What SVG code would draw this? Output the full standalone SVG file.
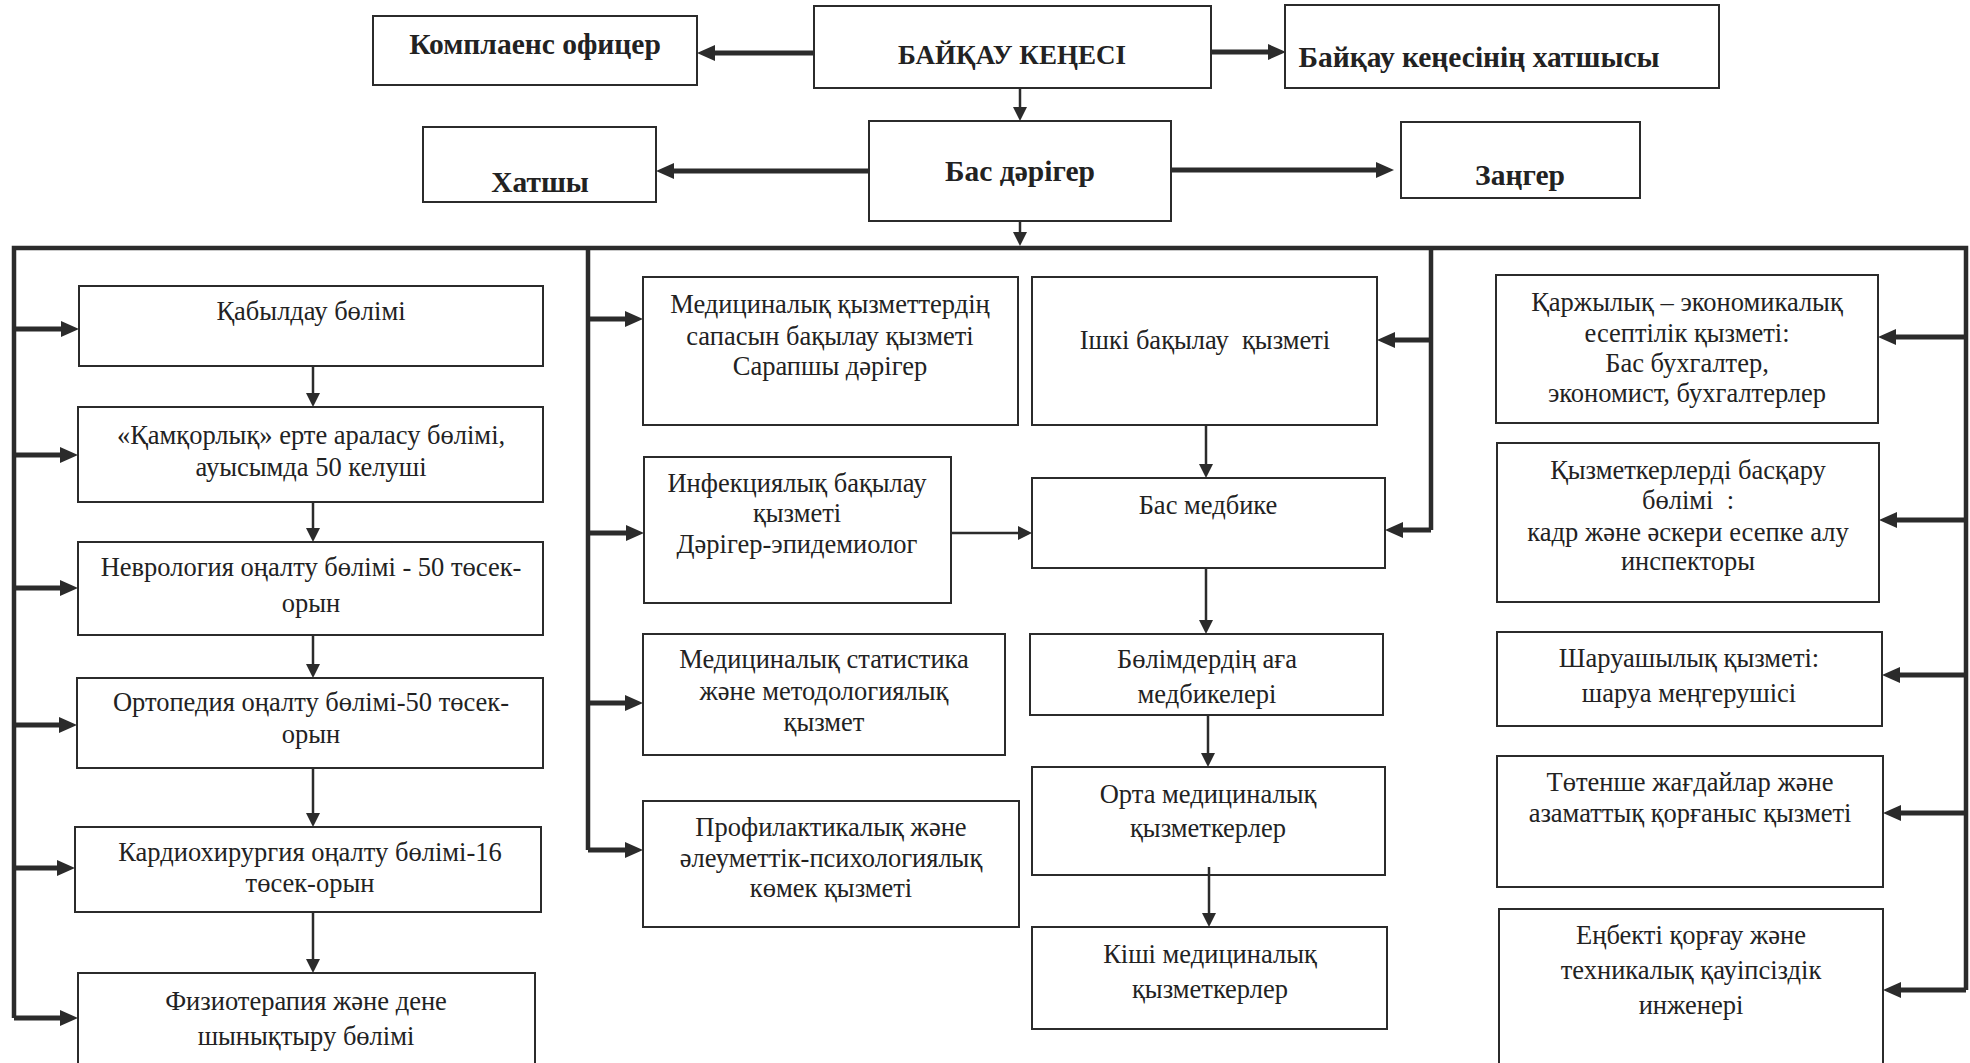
<svg xmlns="http://www.w3.org/2000/svg" width="1970" height="1063" viewBox="0 0 1970 1063">
<style>
.box{fill:#fff;stroke:#2b2b2b;stroke-width:2}
.t{font-family:"Liberation Serif","Times New Roman",serif;font-size:26.5px;fill:#222;text-anchor:middle}
.b{font-family:"Liberation Serif","Times New Roman",serif;font-size:29.5px;font-weight:bold;fill:#222;text-anchor:middle}
.bus{fill:none;stroke:#2b2b2b;stroke-width:4.5}
.thick{fill:none;stroke:#2b2b2b;stroke-width:5}
.thin{fill:none;stroke:#2b2b2b;stroke-width:2.5}
</style>
<defs>
<marker id="ah" markerUnits="userSpaceOnUse" markerWidth="18" markerHeight="16" refX="9" refY="8" orient="auto"><path d="M0,0 L18,8 L0,16 z" fill="#2b2b2b"/></marker>
<marker id="ahs" markerUnits="userSpaceOnUse" markerWidth="14" markerHeight="14" refX="7" refY="7" orient="auto"><path d="M0,0 L14,7 L0,14 z" fill="#2b2b2b"/></marker>
</defs>
<rect width="1970" height="1063" fill="#fff"/>

<g id="compliance"><rect class="box" x="373" y="16" width="324" height="69"/><text class="b" x="535" y="54">Комплаенс офицер</text></g>
<g id="board"><rect class="box" x="814" y="6" width="397" height="82"/><text class="b" x="1012" y="64" style="font-size:27px">БАЙҚАУ КЕҢЕСІ</text></g>
<g id="board-secretary"><rect class="box" x="1285" y="5" width="434" height="83"/><text class="b" x="1479" y="67">Байқау кеңесінің хатшысы</text></g>
<g id="secretary"><rect class="box" x="423" y="127" width="233" height="75"/><text class="b" x="540" y="192">Хатшы</text></g>
<g id="chief-doctor"><rect class="box" x="869" y="121" width="302" height="100"/><text class="b" x="1020" y="181">Бас дәрігер</text></g>
<g id="lawyer"><rect class="box" x="1401" y="122" width="239" height="76"/><text class="b" x="1520" y="185">Заңгер</text></g>

<g id="reception"><rect class="box" x="79" y="286" width="464" height="80"/><text class="t" x="311" y="320">Қабылдау бөлімі</text></g>
<g id="kamkorlyk"><rect class="box" x="78" y="407" width="465" height="95"/><text class="t" x="311" y="444">«Қамқорлық» ерте араласу бөлімі,</text><text class="t" x="311" y="476">ауысымда 50 келуші</text></g>
<g id="neurology"><rect class="box" x="78" y="542" width="465" height="93"/><text class="t" x="311" y="576">Неврология оңалту бөлімі - 50 төсек-</text><text class="t" x="311" y="612">орын</text></g>
<g id="orthopedics"><rect class="box" x="77" y="678" width="466" height="90"/><text class="t" x="311" y="711">Ортопедия оңалту бөлімі-50 төсек-</text><text class="t" x="311" y="743">орын</text></g>
<g id="cardio"><rect class="box" x="75" y="827" width="466" height="85"/><text class="t" x="310" y="861">Кардиохирургия оңалту бөлімі-16</text><text class="t" x="310" y="892">төсек-орын</text></g>
<g id="physio"><rect class="box" x="78" y="973" width="457" height="100"/><text class="t" x="306" y="1010">Физиотерапия және дене</text><text class="t" x="306" y="1045">шынықтыру бөлімі</text></g>

<g id="quality"><rect class="box" x="643" y="277" width="375" height="148"/><text class="t" x="830" y="313">Медициналық қызметтердің</text><text class="t" x="830" y="345">сапасын бақылау қызметі</text><text class="t" x="830" y="375">Сарапшы дәрігер</text></g>
<g id="infection"><rect class="box" x="644" y="457" width="307" height="146"/><text class="t" x="797" y="492">Инфекциялық бақылау</text><text class="t" x="797" y="522">қызметі</text><text class="t" x="797" y="553">Дәрігер-эпидемиолог</text></g>
<g id="statistics"><rect class="box" x="643" y="634" width="362" height="121"/><text class="t" x="824" y="668">Медициналық статистика</text><text class="t" x="824" y="700">және методологиялық</text><text class="t" x="824" y="731">қызмет</text></g>
<g id="prevention"><rect class="box" x="643" y="801" width="376" height="126"/><text class="t" x="831" y="836">Профилактикалық және</text><text class="t" x="831" y="867">әлеуметтік-психологиялық</text><text class="t" x="831" y="897">көмек қызметі</text></g>

<g id="internal-control"><rect class="box" x="1032" y="277" width="345" height="148"/><text class="t" x="1205" y="349" xml:space="preserve">Ішкі бақылау  қызметі</text></g>
<g id="head-nurse"><rect class="box" x="1032" y="478" width="353" height="90"/><text class="t" x="1208" y="514">Бас медбике</text></g>
<g id="senior-nurses"><rect class="box" x="1030" y="634" width="353" height="81"/><text class="t" x="1207" y="668">Бөлімдердің аға</text><text class="t" x="1207" y="703">медбикелері</text></g>
<g id="mid-staff"><rect class="box" x="1032" y="767" width="353" height="108"/><text class="t" x="1208" y="803">Орта медициналық</text><text class="t" x="1208" y="837">қызметкерлер</text></g>
<g id="junior-staff"><rect class="box" x="1032" y="927" width="355" height="102"/><text class="t" x="1210" y="963">Кіші медициналық</text><text class="t" x="1210" y="998">қызметкерлер</text></g>

<g id="finance"><rect class="box" x="1496" y="275" width="382" height="148"/><text class="t" x="1687" y="311">Қаржылық – экономикалық</text><text class="t" x="1687" y="342">есептілік қызметі:</text><text class="t" x="1687" y="372">Бас бухгалтер,</text><text class="t" x="1687" y="402">экономист, бухгалтерлер</text></g>
<g id="hr"><rect class="box" x="1497" y="443" width="382" height="159"/><text class="t" x="1688" y="479">Қызметкерлерді басқару</text><text class="t" x="1688" y="509" xml:space="preserve">бөлімі  :</text><text class="t" x="1688" y="541">кадр және әскери есепке алу</text><text class="t" x="1688" y="570">инспекторы</text></g>
<g id="household"><rect class="box" x="1497" y="632" width="385" height="94"/><text class="t" x="1689" y="667">Шаруашылық қызметі:</text><text class="t" x="1689" y="702">шаруа меңгерушісі</text></g>
<g id="emergency"><rect class="box" x="1497" y="756" width="386" height="131"/><text class="t" x="1690" y="791">Төтенше жағдайлар және</text><text class="t" x="1690" y="822">азаматтық қорғаныс қызметі</text></g>
<g id="safety"><rect class="box" x="1499" y="909" width="384" height="164"/><text class="t" x="1691" y="944">Еңбекті қорғау және</text><text class="t" x="1691" y="979">техникалық қауіпсіздік</text><text class="t" x="1691" y="1014">инженері</text></g>

<g id="connectors">
<path class="bus" d="M14,1018 V248 H1966 V990"/>
<path class="bus" d="M588,248 V850"/>
<path class="bus" d="M1431,248 V530"/>
<path class="thick" d="M813,53 H706" marker-end="url(#ah)"/>
<path class="thick" d="M1211,52 H1277" marker-end="url(#ah)"/>
<path class="thin" d="M1020,88 V114" marker-end="url(#ahs)"/>
<path class="thick" d="M869,171 H665" marker-end="url(#ah)"/>
<path class="thick" d="M1171,170 H1385" marker-end="url(#ah)"/>
<path class="thin" d="M1020,221 V239" marker-end="url(#ahs)"/>
<path class="thick" d="M14,329 H70" marker-end="url(#ah)"/>
<path class="thick" d="M14,455 H69" marker-end="url(#ah)"/>
<path class="thick" d="M14,588 H69" marker-end="url(#ah)"/>
<path class="thick" d="M14,725 H68" marker-end="url(#ah)"/>
<path class="thick" d="M14,868 H66" marker-end="url(#ah)"/>
<path class="thick" d="M14,1018 H69" marker-end="url(#ah)"/>
<path class="thin" d="M313,366 V400" marker-end="url(#ahs)"/>
<path class="thin" d="M313,502 V535" marker-end="url(#ahs)"/>
<path class="thin" d="M313,635 V671" marker-end="url(#ahs)"/>
<path class="thin" d="M313,768 V820" marker-end="url(#ahs)"/>
<path class="thin" d="M313,912 V966" marker-end="url(#ahs)"/>
<path class="thick" d="M588,319 H634" marker-end="url(#ah)"/>
<path class="thick" d="M588,533 H635" marker-end="url(#ah)"/>
<path class="thick" d="M588,703 H634" marker-end="url(#ah)"/>
<path class="thick" d="M588,850 H634" marker-end="url(#ah)"/>
<path class="thin" d="M951,533 H1025" marker-end="url(#ahs)"/>
<path class="thick" d="M1431,340 H1386" marker-end="url(#ah)"/>
<path class="thick" d="M1431,530 H1394" marker-end="url(#ah)"/>
<path class="thin" d="M1206,425 V471" marker-end="url(#ahs)"/>
<path class="thin" d="M1206,568 V627" marker-end="url(#ahs)"/>
<path class="thin" d="M1208,715 V760" marker-end="url(#ahs)"/>
<path class="thin" d="M1209,867 V920" marker-end="url(#ahs)"/>
<path class="thick" d="M1966,337 H1887" marker-end="url(#ah)"/>
<path class="thick" d="M1966,520 H1888" marker-end="url(#ah)"/>
<path class="thick" d="M1966,675 H1891" marker-end="url(#ah)"/>
<path class="thick" d="M1966,813 H1892" marker-end="url(#ah)"/>
<path class="thick" d="M1966,990 H1892" marker-end="url(#ah)"/>
</g>
</svg>
